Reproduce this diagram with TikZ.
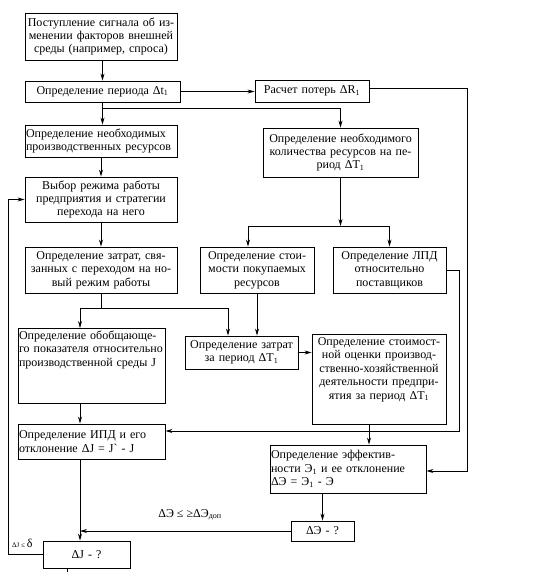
\documentclass[tikz,border=0pt]{standalone}
\usepackage{fontspec}
\setmainfont{Liberation Serif}
\usetikzlibrary{arrows.meta}
\providecommand{\blkFont}{\fontsize{12}{13.4}\selectfont}
\providecommand{\blkLineWidth}{0.9pt}
\providecommand{\lnkLineWidth}{0.75pt}
\tikzset{
  blk/.style={draw, line width=\blkLineWidth, inner xsep=1pt, inner ysep=2pt, align=center, font=\blkFont},
  blkl/.style={blk, align=left},
  ln/.style={line width=\lnkLineWidth},
  lnk/.style={ln, -{Stealth[length=7pt,width=4pt]}}
}
\begin{document}
\begin{tikzpicture}
\begin{scope}[x=1pt, y=-1pt, line join=miter]
  \useasboundingbox (0,0) rectangle (548,572);
  % Blocks, left column
  \node[blk, text width=150pt, minimum height=47pt] (signal) at (101,36.5) {Поступление сигнала об из-\\менении факторов внешней\\среды (например, спроса)};
  \node[blk, text width=153pt, minimum height=21pt] (period) at (102.5,91.5) {Определение периода Δt\textsubscript{1}};
  \node[blkl, text width=150pt, minimum height=32pt] (needprod) at (101,141) {Определение необходимых\\производственных ресурсов};
  \node[blk, text width=150pt, minimum height=45pt] (mode) at (101,199.5) {Выбор режима работы\\предприятия и стратегии\\перехода на него};
  \node[blk, text width=150pt, minimum height=46pt] (trans) at (101,270) {Определение затрат, свя-\\занных с переходом на но-\\вый режим работы};
  \node[blkl, text width=145pt, text height=9pt, text depth=62pt, anchor=north] (general) at (91.5,328) {Определение обобщающе-\\го показателя относительно\\производственной среды J};
  \node[blkl, text width=145pt, minimum height=35pt] (ipd) at (91.5,441.5) {Определение ИПД и его\\отклонение ΔJ = J\textasciigrave{} - J};
  \node[blk, text width=85pt, minimum height=27pt] (dJ) at (86.5,554.5) {ΔJ - ?};
  % Blocks, right part
  \node[blk, text width=112pt, minimum height=22pt] (loss) at (312,91) {Расчет потерь ΔR\textsubscript{1}};
  \node[blk, text width=153pt, minimum height=49pt] (needqty) at (340.5,152.5) {Определение необходимого\\количества ресурсов на пе-\\риод ΔT\textsubscript{1}};
  \node[blk, text width=112pt, minimum height=46pt] (price) at (257,270) {Определение стои-\\мости покупаемых\\ресурсов};
  \node[blk, text width=111pt, minimum height=46pt] (lpd) at (389.5,270) {Определение ЛПД\\относительно\\поставщиков};
  \node[blk, text width=111pt, minimum height=33pt] (costT) at (241.5,352.5) {Определение затрат\\за период ΔT\textsubscript{1}};
  \node[blk, text width=132pt, text height=9pt, text depth=77pt, anchor=north] (value) at (379,334) {Определение стоимост-\\ной оценки производ-\\ственно-хозяйственной\\деятельности предпри-\\ятия за период ΔT\textsubscript{1}};
  \node[blkl, text width=154pt, minimum height=48pt] (eff) at (348,469) {Определение эффектив-\\ности Э\textsubscript{1} и ее отклонение\\ΔЭ = Э\textsubscript{1} - Э};
  \node[blk, text width=61pt, minimum height=20pt] (dE) at (322.5,531) {ΔЭ - ?};
  % Labels on the loops
  \node[font=\blkFont, anchor=south] (dElbl) at (190,524) {ΔЭ ≤ ≥ΔЭ\textsubscript{доп}};
  \node[font=\fontsize{7}{8}\selectfont, anchor=south west, inner sep=1pt] (dJlbl) at (11,549) {ΔJ ≤ {\fontsize{12}{13}\selectfont δ}};
  % Junction points
  \coordinate (fork1) at (102.5,108);
  \coordinate (fork2) at (340.5,226);
  \coordinate (fork2l) at (248,226);
  \coordinate (fork2r) at (389.5,226);
  \coordinate (fork3) at (101,308);
  \coordinate (fork3l) at (80,308);
  \coordinate (fork3r) at (228,308);
  \coordinate (valx) at (369,0);
  \coordinate (lpdc) at (459,431);
  \coordinate (lossc) at (467,471);
  \coordinate (backx) at (8,0);
  \coordinate (stub) at (67,572);
  % Connectors, left column
  \draw[lnk] (signal.south -| period) -- (period.north);
  \draw[lnk] (period.east) -- (period.east -| loss.west);
  \draw[lnk] (period.south) -- (period.south |- needprod.north);
  \draw[lnk] (fork1) -| (needqty.north);
  \draw[lnk] (needprod.south) -- (mode.north);
  \draw[lnk] (mode.south) -- (trans.north);
  % Connectors, resources
  \draw[lnk] (needqty.south) -- (fork2);
  \draw[ln] (fork2l) -- (fork2r);
  \draw[lnk] (fork2l) -- (fork2l |- price.north);
  \draw[lnk] (fork2r) -- (lpd.north);
  % Connectors, costs
  \draw[ln] (trans.south) -- (fork3);
  \draw[ln] (fork3l) -- (fork3r);
  \draw[lnk] (fork3l) -- (fork3l |- general.north);
  \draw[lnk] (fork3r) -- (fork3r |- costT.north);
  \draw[lnk] (price.south) -- (price.south |- costT.north);
  \draw[lnk] (costT.east) -- (costT.east -| value.west);
  \draw[lnk] (general.south -| fork3l) -- (ipd.north -| fork3l);
  \draw[lnk] (ipd.south -| fork3l) -- (dJ.north -| fork3l);
  \draw[lnk] (value.south -| valx) -- (eff.north -| valx);
  \draw[lnk] (eff.south -| dE.north) -- (dE.north);
  % Loops
  \draw[lnk] (lpd.east) -| (lpdc) -- (lpdc -| ipd.east);
  \draw[lnk] ([yshift=3pt]loss.east) -| (lossc) -- (lossc -| eff.east);
  \draw[lnk] (dE.west) -- (dE.west -| fork3l);
  \draw[lnk] (dJ.west) -- (dJ.west -| backx) |- (mode.west);
  \draw[ln] (dJ.south -| stub) -- (stub);
\end{scope}
\end{tikzpicture}
\end{document}
